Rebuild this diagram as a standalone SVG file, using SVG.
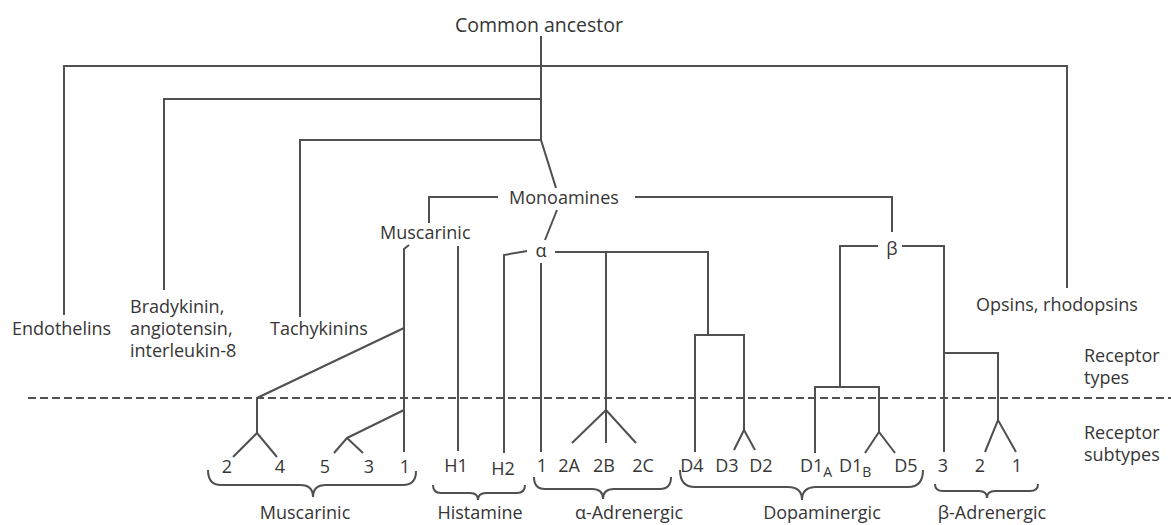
<svg xmlns="http://www.w3.org/2000/svg" width="1171" height="525" viewBox="0 0 1171 525">
<style>
.ln{fill:none;stroke:#505050;stroke-width:2;stroke-linejoin:miter}
.br{fill:none;stroke:#505050;stroke-width:2}
.dash{fill:none;stroke:#505050;stroke-width:1.8;stroke-dasharray:8 4}
text{font-family:"Open Sans","Noto Sans",sans-serif;font-size:18px;fill:#363636}
.c{text-anchor:middle}
.sub{font-size:14px}
.big{font-size:19.5px}
</style>
<rect width="1171" height="525" fill="#ffffff"/>
<g id="connectors">
<path class="ln" d="M541,36 V140"/>
<path class="ln" d="M64,315 V66 H1067 V288"/>
<path class="ln" d="M164,290 V99 H541"/>
<path class="ln" d="M300,317 V140 H541"/>
<path class="ln" d="M541,140 L556,188"/>
<path class="ln" d="M429,223 V197 H498"/>
<path class="ln" d="M635,197 H892 V232"/>
<path class="ln" d="M557,210 L545,240"/>
<path class="ln" d="M409,245 L404,249 V452"/>
<path class="ln" d="M404,328 L257,398 V433"/>
<path class="ln" d="M233,457 L257,433 L277,457"/>
<path class="ln" d="M404,410 L347,438"/>
<path class="ln" d="M334,453 L347,438 L363,453"/>
<path class="ln" d="M458,246 V451"/>
<path class="ln" d="M527,251 L504,255 V453"/>
<path class="ln" d="M541,263 V452"/>
<path class="ln" d="M555,252 H708 V335"/>
<path class="ln" d="M606,252 V443"/>
<path class="ln" d="M572,443 L606,410 L636,443"/>
<path class="ln" d="M695,452 V335 H744 V430"/>
<path class="ln" d="M734,450 L744,430 L755,450"/>
<path class="ln" d="M878,246 H840 V387"/>
<path class="ln" d="M815,453 V387 H879 V432"/>
<path class="ln" d="M865,453 L879,432 L895,453"/>
<path class="ln" d="M902,246 H944 V452"/>
<path class="ln" d="M944,353 H998 V420"/>
<path class="ln" d="M985,452 L998,420 L1016,452"/>
<path class="dash" d="M28,398 H1171"/>
</g>
<g id="braces">
<path class="br" d="M208,470 Q208,485 221,485 H300 Q313,485 313,497 Q313,485 326,485 H403 Q416,485 416,471"/>
<path class="br" d="M433,485 Q433,493 441,493 H470 Q478,493 478,500 Q478,493 486,493 H517 Q525,493 525,485"/>
<path class="br" d="M534,477 Q534,489 545,489 H592 Q603,489 603,499 Q603,489 614,489 H660 Q671,489 671,477"/>
<path class="br" d="M680,470 Q680,487 695,487 H788 Q802,487 802,500 Q802,487 816,487 H908 Q923,487 923,470"/>
<path class="br" d="M935,484 Q935,491 943,491 H979 Q987,491 987,498 Q987,491 995,491 H1030 Q1038,491 1038,484"/>
</g>
<g id="n-ancestor"><text class="c big" x="539" y="32">Common ancestor</text></g>
<g id="n-endothelins"><text x="12" y="335">Endothelins</text></g>
<g id="n-bradykinin"><text x="130" y="313">Bradykinin,</text><text x="130" y="335">angiotensin,</text><text x="130" y="357">interleukin-8</text></g>
<g id="n-tachykinins"><text x="270" y="335">Tachykinins</text></g>
<g id="n-opsins"><text x="976" y="311">Opsins, rhodopsins</text></g>
<g id="n-monoamines"><text x="509" y="204">Monoamines</text></g>
<g id="n-muscarinic-type"><text x="380" y="239">Muscarinic</text></g>
<g id="n-alpha"><text class="c" x="541" y="257">α</text></g>
<g id="n-beta"><text class="c" x="892" y="255">β</text></g>
<g id="n-receptor-types"><text x="1084" y="362">Receptor</text><text x="1084" y="384">types</text></g>
<g id="n-receptor-subtypes"><text x="1084" y="439">Receptor</text><text x="1084" y="461">subtypes</text></g>
<g id="n-subtypes">
<text class="c" x="227" y="473">2</text>
<text class="c" x="280" y="473">4</text>
<text class="c" x="325" y="473">5</text>
<text class="c" x="369" y="473">3</text>
<text class="c" x="405" y="473">1</text>
<text class="c" x="456" y="472">H1</text>
<text class="c" x="503" y="475">H2</text>
<text class="c" x="542" y="472">1</text>
<text class="c" x="569" y="472">2A</text>
<text class="c" x="604" y="472">2B</text>
<text class="c" x="643" y="472">2C</text>
<text class="c" x="692" y="472">D4</text>
<text class="c" x="727" y="472">D3</text>
<text class="c" x="761" y="472">D2</text>
<text x="800" y="472">D1<tspan class="sub" dy="5">A</tspan></text>
<text x="839" y="472">D1<tspan class="sub" dy="5">B</tspan></text>
<text class="c" x="906" y="472">D5</text>
<text class="c" x="943" y="472">3</text>
<text class="c" x="980" y="472">2</text>
<text class="c" x="1017" y="472">1</text>
</g>
<g id="n-families">
<text class="c" x="305" y="519">Muscarinic</text>
<text class="c" x="480" y="519">Histamine</text>
<text class="c" x="629" y="519">α-Adrenergic</text>
<text class="c" x="822" y="519">Dopaminergic</text>
<text class="c" x="992" y="519">β-Adrenergic</text>
</g>
</svg>
